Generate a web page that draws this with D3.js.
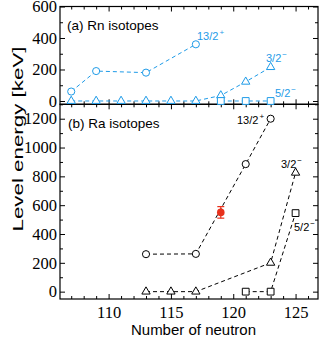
<!DOCTYPE html>
<html>
<head>
<meta charset="utf-8">
<script src="https://cdn.jsdelivr.net/npm/d3@7"></script>
<style>
body { margin: 0; background: #fff; }
.tick text { font-family: "Liberation Serif", "Times New Roman", serif; font-size: 16.5px; fill: #000; }
.tick line { stroke: #000; stroke-width: 1; }
</style>
</head>
<body>
<script>
"use strict";

var neutronTicks = [110, 115, 120, 125];
var rnTicks = [0, 200, 400, 600];
var raTicks = [0, 200, 400, 600, 800, 1000, 1200];

// (a) Rn isotopes
var rnN13 = [107, 109, 113, 117];
var rnE13 = [60, 190, 180, 360];
var rnN3 = [107, 109, 111, 113, 115, 117, 119, 121, 123];
var rnE3 = [0, 0, 0, 0, 0, 0, 35, 122, 215];
var rnN5 = [119, 121, 123];
var rnE5 = [0, 0, 0];

// (b) Ra isotopes
var raN13 = [113, 117, 121, 123];
var raE13 = [260, 262, 885, 1200];
var raN3 = [113, 115, 117, 123, 125];
var raE3 = [0, 0, 0, 200, 825];
var raN5 = [121, 123, 125];
var raE5 = [0, 0, 545];
// measured point
var raExpN = [119];
var raExpE = [550];
var raExpErr = [40];

var blue = "#1e9be8";
var red = "#e8311c";

var width = 322;
var height = 340;
var left = 60, right = 318;
var topA = 6.5, mid = 104.3, bottom = 299;

var svg = d3.select("body").append("svg")
    .attr("width", width)
    .attr("height", height);

var x = d3.scaleLinear().domain([106.1, 126.8]).range([left, right]);
var yA = d3.scaleLinear().domain([-21, 600]).range([mid, topA]);
var yB = d3.scaleLinear().domain([-51, 1300]).range([bottom, mid]);

function zip(ns, es) {
    return ns.map(function(n, i) { return { n: n, e: es[i] }; });
}

function drawAxes(y, top, bot, majors, minorStep) {
    var minors = d3.range(0, y.domain()[1] + 1, minorStep).filter(function(v) {
        return majors.indexOf(v) < 0 && v <= y.domain()[1];
    });
    // left
    svg.append("g").attr("transform", "translate(" + left + ",0)")
        .call(d3.axisLeft(y).tickValues(majors).tickSize(-5).tickPadding(3).tickFormat(d3.format("d")))
        .call(function(g) { g.select(".domain").remove(); });
    svg.append("g").attr("transform", "translate(" + left + ",0)")
        .call(d3.axisLeft(y).tickValues(minors).tickSize(-3).tickFormat(""))
        .call(function(g) { g.select(".domain").remove(); });
    // right
    svg.append("g").attr("transform", "translate(" + right + ",0)")
        .call(d3.axisRight(y).tickValues(majors).tickSize(-5).tickFormat(""))
        .call(function(g) { g.select(".domain").remove(); });
    svg.append("g").attr("transform", "translate(" + right + ",0)")
        .call(d3.axisRight(y).tickValues(minors).tickSize(-3).tickFormat(""))
        .call(function(g) { g.select(".domain").remove(); });

    var xMinors = d3.range(107, 127, 1).filter(function(v) { return v % 5 != 0; });
    // bottom edge, inward
    svg.append("g").attr("transform", "translate(0," + bot + ")")
        .call(d3.axisBottom(x).tickValues(neutronTicks).tickSize(-5).tickFormat(""))
        .call(function(g) { g.select(".domain").remove(); });
    svg.append("g").attr("transform", "translate(0," + bot + ")")
        .call(d3.axisBottom(x).tickValues(xMinors).tickSize(-3).tickFormat(""))
        .call(function(g) { g.select(".domain").remove(); });
    // top edge, inward
    svg.append("g").attr("transform", "translate(0," + top + ")")
        .call(d3.axisTop(x).tickValues(neutronTicks).tickSize(-5).tickFormat(""))
        .call(function(g) { g.select(".domain").remove(); });
    svg.append("g").attr("transform", "translate(0," + top + ")")
        .call(d3.axisTop(x).tickValues(xMinors).tickSize(-3).tickFormat(""))
        .call(function(g) { g.select(".domain").remove(); });

    svg.append("rect")
        .attr("x", left).attr("y", top)
        .attr("width", right - left).attr("height", bot - top)
        .attr("fill", "none").attr("stroke", "#000").attr("stroke-width", 1.2);
}

drawAxes(yA, topA, mid, rnTicks, 100);
drawAxes(yB, mid, bottom, raTicks, 100);

// x tick labels
svg.append("g").attr("transform", "translate(0," + bottom + ")")
    .call(d3.axisBottom(x).tickValues(neutronTicks).tickSize(0).tickPadding(7))
    .call(function(g) { g.select(".domain").remove(); });

function drawSeries(y, ns, es, shape, color) {
    var pts = zip(ns, es);
    var line = d3.line()
        .x(function(d) { return x(d.n); })
        .y(function(d) { return y(d.e); });
    svg.append("path")
        .datum(pts)
        .attr("d", line)
        .attr("fill", "none")
        .attr("stroke", color)
        .attr("stroke-width", 1)
        .attr("stroke-dasharray", "4,3");
    var sizes = { circle: 40, triangle: 30, square: 46 };
    var types = { circle: d3.symbolCircle, triangle: d3.symbolTriangle, square: d3.symbolSquare };
    svg.append("g").selectAll("path")
        .data(pts)
        .enter()
        .append("path")
        .attr("transform", function(d) { return "translate(" + x(d.n) + "," + y(d.e) + ")"; })
        .attr("d", d3.symbol().type(types[shape]).size(sizes[shape]))
        .attr("fill", "#fff")
        .attr("stroke", color)
        .attr("stroke-width", 1);
}

drawSeries(yA, rnN3, rnE3, "triangle", blue);
drawSeries(yA, rnN5, rnE5, "square", blue);
drawSeries(yA, rnN13, rnE13, "circle", blue);

drawSeries(yB, raN3, raE3, "triangle", "#000");
drawSeries(yB, raN5, raE5, "square", "#000");
drawSeries(yB, raN13, raE13, "circle", "#000");

// measured Ra point with error bar
var exp = raExpN.map(function(n, i) { return { n: n, e: raExpE[i], err: raExpErr[i] }; });
var expG = svg.append("g").selectAll("g").data(exp).enter().append("g");
expG.append("line")
    .attr("x1", function(d) { return x(d.n); })
    .attr("x2", function(d) { return x(d.n); })
    .attr("y1", function(d) { return yB(d.e - d.err); })
    .attr("y2", function(d) { return yB(d.e + d.err); })
    .attr("stroke", red).attr("stroke-width", 1.2);
[-1, 1].forEach(function(s) {
    expG.append("line")
        .attr("x1", function(d) { return x(d.n) - 3.5; })
        .attr("x2", function(d) { return x(d.n) + 3.5; })
        .attr("y1", function(d) { return yB(d.e + s * d.err); })
        .attr("y2", function(d) { return yB(d.e + s * d.err); })
        .attr("stroke", red).attr("stroke-width", 1.2);
});
expG.append("circle")
    .attr("cx", function(d) { return x(d.n); })
    .attr("cy", function(d) { return yB(d.e); })
    .attr("r", 3.8)
    .attr("fill", red);

// spin labels
function spinLabel(px, py, main, sup, color) {
    var t = svg.append("text")
        .attr("x", px).attr("y", py)
        .attr("fill", color)
        .style("font-family", "'Liberation Sans', Arial, sans-serif")
        .style("font-size", "11px");
    t.append("tspan").text(main);
    t.append("tspan").attr("dy", -5).attr("dx", 1).style("font-size", "8px").text(sup);
}

spinLabel(197, 39.5, "13/2", "+", blue);
spinLabel(266, 62, "3/2", "\u2212", blue);
spinLabel(275, 96.5, "5/2", "\u2212", blue);

spinLabel(237, 124, "13/2", "+", "#000");
spinLabel(281, 168, "3/2", "\u2212", "#000");
spinLabel(294, 231, "5/2", "\u2212", "#000");

// panel labels
svg.append("text").attr("x", 67).attr("y", 30)
    .style("font-family", "'Liberation Sans', Arial, sans-serif").style("font-size", "13.5px")
    .text("(a) Rn isotopes");
svg.append("text").attr("x", 68).attr("y", 127.5)
    .style("font-family", "'Liberation Sans', Arial, sans-serif").style("font-size", "13.5px")
    .text("(b) Ra isotopes");

// axis titles
svg.append("text")
    .attr("text-anchor", "middle")
    .attr("x", 193.5).attr("y", 335)
    .style("font-family", "'Liberation Sans', Arial, sans-serif").style("font-size", "15px")
    .text("Number of neutron");
svg.append("text")
    .attr("text-anchor", "middle")
    .attr("transform", "translate(23,139) rotate(-90)")
    .attr("textLength", 185)
    .attr("lengthAdjust", "spacingAndGlyphs")
    .style("font-family", "'Liberation Sans', Arial, sans-serif").style("font-size", "15.5px")
    .text("Level energy [keV]");
</script>
</body>
</html>
